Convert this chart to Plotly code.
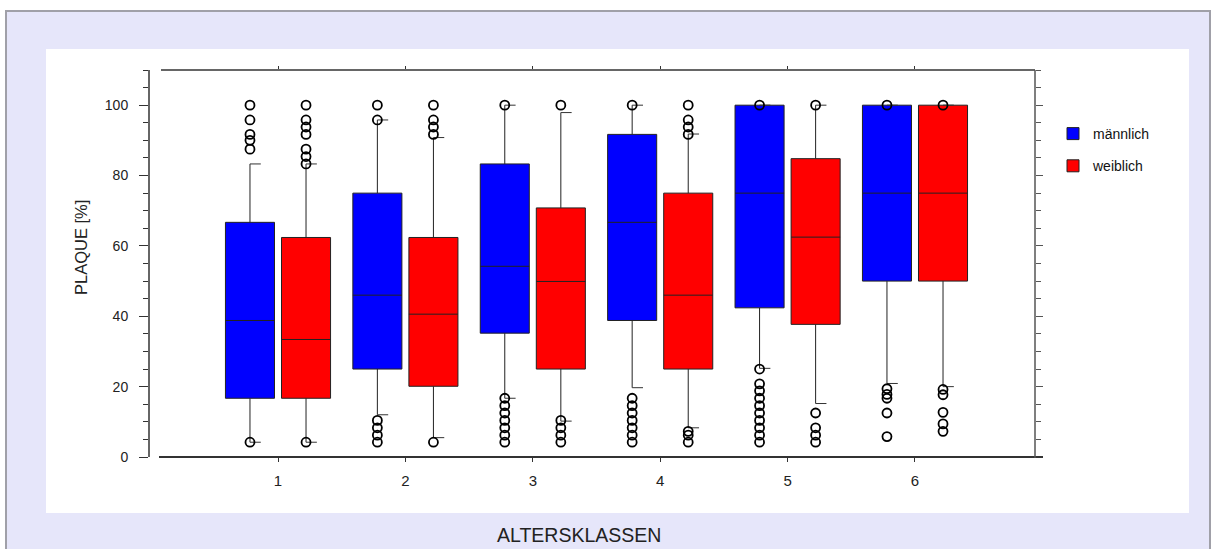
import plotly.graph_objects as go

# ---------------- data ----------------
categories = [1, 2, 3, 4, 5, 6]
series_names = ["männlich", "weiblich"]

m_q1 = [16.7, 25.0, 35.2, 38.8, 42.4, 50.0]
m_median = [38.8, 46.0, 54.2, 66.7, 75.0, 75.0]
m_q3 = [66.7, 75.0, 83.3, 91.7, 100.0, 100.0]
m_lower = [4.2, 12.0, 16.7, 19.7, 25.2, 20.9]
m_upper = [83.3, 95.8, 100.0, 100.0, 100.0, 100.0]
m_outliers = [
    [100, 95.8, 91.7, 90.0, 87.5, 4.2],
    [100, 95.8, 10.4, 8.3, 6.2, 4.2],
    [100, 16.7, 14.6, 12.5, 10.4, 8.3, 6.2, 4.2],
    [100, 16.7, 14.6, 12.5, 10.4, 8.3, 6.2, 4.2],
    [100, 25.0, 20.8, 18.8, 16.7, 14.6, 12.5, 10.4, 8.3, 6.2, 4.2],
    [100, 19.4, 17.8, 16.7, 12.5, 5.8],
]

w_q1 = [16.7, 20.1, 25.0, 25.0, 37.7, 50.0]
w_median = [33.4, 40.6, 49.9, 46.0, 62.5, 75.0]
w_q3 = [62.4, 62.4, 70.8, 75.0, 84.8, 100.0]
w_lower = [4.2, 5.5, 10.2, 8.3, 15.2, 20.0]
w_upper = [83.3, 90.8, 97.9, 91.8, 100.0, 100.0]
w_outliers = [
    [100, 95.8, 93.8, 91.7, 87.5, 85.4, 83.3, 4.2],
    [100, 95.8, 93.8, 91.7, 4.2],
    [100, 10.4, 8.3, 6.2, 4.2],
    [100, 95.8, 93.8, 91.7, 7.3, 6.2, 4.2],
    [100, 12.5, 8.3, 6.2, 4.2],
    [100, 19.2, 17.7, 12.7, 9.4, 7.3],
]

y_ticks = [0, 20, 40, 60, 80, 100]

# ---------------- styling / layout constants ----------------
FONT = "Liberation Sans, Arial, sans-serif"
OFFSET = 0.22
BOX_W = 0.385
CAP = 0.085
colors = ["#0000FF", "#FF0000"]

W, H = 1216, 549
L, R, T, B = 149, 1216 - 1035, 70, 549 - 457
PW, PH = W - L - R, H - T - B


def fx(px):
    return (px - L) / PW


def fy(py):
    return (H - B - py) / PH


fig = go.Figure()

groups = [
    (m_q1, m_median, m_q3, m_lower, m_upper, m_outliers, -OFFSET),
    (w_q1, w_median, w_q3, w_lower, w_upper, w_outliers, OFFSET),
]

for i, (q1, med, q3, lo, hi, outs, off) in enumerate(groups):
    xs = [c + off for c in categories]
    fig.add_trace(go.Box(
        x=xs, q1=q1, median=med, q3=q3, lowerfence=lo, upperfence=hi,
        width=BOX_W, whiskerwidth=0,
        fillcolor=colors[i], line=dict(color="#222222", width=1),
        name=series_names[i], legendgroup=series_names[i],
        boxpoints=False, hoverinfo="skip",
    ))
    # half whisker caps
    cx, cy = [], []
    for x, a, b in zip(xs, lo, hi):
        cx += [x, x + CAP, None, x, x + CAP, None]
        cy += [a, a, None, b, b, None]
    fig.add_trace(go.Scatter(
        x=cx, y=cy, mode="lines", line=dict(color="#333333", width=1),
        showlegend=False, hoverinfo="skip",
    ))
    # outliers
    ox, oy = [], []
    for x, vals in zip(xs, outs):
        ox += [x] * len(vals)
        oy += vals
    fig.add_trace(go.Scatter(
        x=ox, y=oy, mode="markers",
        marker=dict(symbol="circle-open", size=9, color="#000000",
                    line=dict(width=1.8, color="#000000")),
        showlegend=False, hoverinfo="skip",
    ))

# invisible trace for the mirror axes (top / right ticks)
fig.add_trace(go.Scatter(x=[1], y=[0], xaxis="x2", yaxis="y2", mode="markers",
                         marker=dict(opacity=0), showlegend=False, hoverinfo="skip"))

XR = [-0.0126, 6.942]
YR = [0, 110]

shapes = [
    # lavender frame with gray border
    dict(type="rect", xref="paper", yref="paper", layer="below",
         x0=fx(6), x1=fx(1210), y0=fy(560), y1=fy(11),
         line=dict(color="#A0A0A8", width=2), fillcolor="#E6E6FA"),
    # white inner panel
    dict(type="rect", xref="paper", yref="paper", layer="below",
         x0=fx(46), x1=fx(1189), y0=fy(513), y1=fy(49),
         line=dict(width=0), fillcolor="#FFFFFF"),
    # left y-axis line
    dict(type="line", xref="paper", yref="paper", x0=0, x1=0, y0=0, y1=1,
         line=dict(color="#333333", width=1.5)),
    # bottom x-axis line
    dict(type="line", xref="paper", yref="paper", x0=fx(159), x1=fx(1043), y0=0, y1=0,
         line=dict(color="#333333", width=2)),
    # top frame line
    dict(type="line", xref="paper", yref="paper", x0=fx(161), x1=1, y0=1, y1=1,
         line=dict(color="#333333", width=1.5)),
    # right axis line
    dict(type="line", xref="paper", yref="paper", x0=1, x1=1, y0=fy(458), y1=1,
         line=dict(color="#555555", width=1.5)),
]

fig.update_layout(
    width=W, height=H, autosize=False,
    margin=dict(l=L, r=R, t=T, b=B, pad=0),
    paper_bgcolor="#FFFFFF", plot_bgcolor="rgba(0,0,0,0)",
    font=dict(family=FONT, color="#222222"),
    shapes=shapes,
    showlegend=True,
    legend=dict(x=fx(1053), y=fy(118), xanchor="left", yanchor="top",
                bgcolor="rgba(0,0,0,0)", font=dict(family=FONT, size=14, color="#111111"),
                tracegroupgap=11, traceorder="grouped"),
    xaxis=dict(range=XR, tickvals=categories, ticktext=[str(c) for c in categories],
               ticks="outside", ticklen=4, tickwidth=1, tickcolor="#333333",
               showline=False, showgrid=False, zeroline=False,
               tickfont=dict(size=15, color="#222222"), ticklabelstandoff=6),
    yaxis=dict(range=YR, tickvals=y_ticks, ticks="outside", ticklen=9, tickwidth=1,
               tickcolor="#333333", showline=False, showgrid=False, zeroline=False,
               tickfont=dict(size=14, color="#222222"), ticklabelstandoff=8,
               minor=dict(ticks="outside", dtick=5, ticklen=5, tickcolor="#333333", showgrid=False)),
    xaxis2=dict(range=XR, overlaying="x", side="top", anchor="y2", tickvals=categories,
                ticks="outside", ticklen=3, tickcolor="#333333", showticklabels=False,
                showline=False, showgrid=False, zeroline=False),
    yaxis2=dict(range=YR, overlaying="y", side="right", anchor="x2", tickvals=y_ticks,
                ticks="outside", ticklen=7, tickcolor="#555555", showticklabels=False,
                showline=False, showgrid=False, zeroline=False,
                minor=dict(ticks="outside", dtick=5, ticklen=5, tickcolor="#555555", showgrid=False)),
    annotations=[
        dict(text="PLAQUE [%]", xref="paper", yref="paper", x=fx(81), y=fy(248),
             xanchor="center", yanchor="middle",
             textangle=-90, showarrow=False, font=dict(family=FONT, size=16.5, color="#222222")),
        dict(text="ALTERSKLASSEN", xref="paper", yref="paper", x=fx(579), y=fy(535),
             xanchor="center", yanchor="middle",
             showarrow=False, font=dict(family=FONT, size=19.5, color="#222222")),
    ],
)

fig.write_html("out.html")
